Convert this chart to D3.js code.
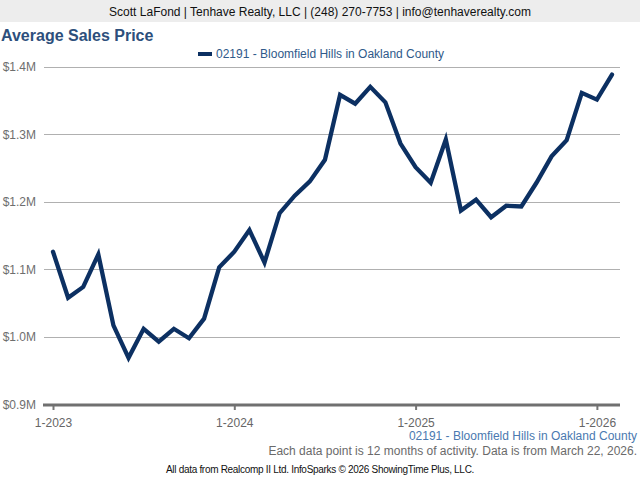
<!DOCTYPE html>
<html><head><meta charset="utf-8">
<script src="https://cdn.jsdelivr.net/npm/d3@7"></script>
<style>
html,body{margin:0;padding:0;background:#fff;}
svg{display:block;font-family:"Liberation Sans",Arial,sans-serif;}
</style></head>
<body><svg id="c" width="640" height="480"></svg>
<script>
const headerText = "Scott LaFond | Tenhave Realty, LLC | (248) 270-7753 | info@tenhaverealty.com";
const chartTitle = "Average Sales Price";
const seriesName = "02191 - Bloomfield Hills in Oakland County";
const startYear = 2023;
const months = d3.range(38); // Jan 2023 .. Feb 2026
const values = [1126000,1058000,1074000,1122000,1017000,969000,1012000,993000,1012000,998000,
  1027000,1103000,1126000,1158000,1110000,1183000,1209000,1230000,1262000,1358000,
  1345000,1370000,1347000,1286000,1251000,1228000,1292000,1187000,1203000,1177000,
  1194000,1193000,1228000,1267000,1291000,1361000,1351000,1388000];
const yTicks = [900000,1000000,1100000,1200000,1300000,1400000];
const xTicks = [0,12,24,36];
const footNote = "Each data point is 12 months of activity. Data is from March 22, 2026.";
const credit = "All data from Realcomp II Ltd. InfoSparks \u00a9 2026 ShowingTime Plus, LLC.";

const svg = d3.select("#c");
// header
svg.append("rect").attr("x",0).attr("y",0).attr("width",640).attr("height",22).attr("fill","#ededed");
svg.append("text").attr("x",320).attr("y",15.5).attr("text-anchor","middle")
  .attr("font-size",12).attr("fill","#111").text(headerText);
svg.append("text").attr("x",1).attr("y",41).attr("font-size",16).attr("font-weight","bold")
  .attr("fill","#2d4f7c").text(chartTitle);
// legend
svg.append("rect").attr("x",198).attr("y",52).attr("width",14).attr("height",4).attr("fill","#0c3062");
svg.append("text").attr("x",216).attr("y",58).attr("font-size",12).attr("fill","#2f5a8a").text(seriesName);

const x = d3.scaleLinear().domain([0,37]).range([53,612]);
const y = d3.scaleLinear().domain([900000,1400000]).range([404.5,66.5]);

// grid
svg.append("g").selectAll("line").data(yTicks.slice(1)).join("line")
  .attr("x1",44).attr("x2",620).attr("y1",d=>Math.round(y(d))+0.5).attr("y2",d=>Math.round(y(d))+0.5)
  .attr("stroke","#b0b0b0").attr("stroke-width",1);
// y labels
svg.append("g").selectAll("text").data(yTicks).join("text")
  .attr("x",36).attr("y",d=>y(d)+4.5).attr("text-anchor","end").attr("font-size",12).attr("fill","#6e6e6e")
  .text(d=>"$"+(d/1e6).toFixed(1)+"M");

// x axis
const xAxis = d3.axisBottom(x).tickValues(xTicks).tickSize(5).tickPadding(8)
  .tickFormat(d=>"1-"+(startYear+d/12));
const gx = svg.append("g").attr("transform","translate(0,405)").call(xAxis);
gx.select(".domain").remove();
gx.selectAll(".tick line").attr("stroke","#777").attr("stroke-width",2);
gx.selectAll(".tick text").attr("font-size",12).attr("fill","#666").attr("font-family","Liberation Sans, Arial, sans-serif");
svg.append("line").attr("x1",43).attr("x2",620).attr("y1",405).attr("y2",405)
  .attr("stroke","#707070").attr("stroke-width",3);

// line
const line = d3.line().x((d,i)=>x(months[i])).y(d=>y(d));
svg.append("path").datum(values).attr("d",line).attr("fill","none")
  .attr("stroke","#0c3062").attr("stroke-width",4.3).attr("stroke-linejoin","miter").attr("stroke-linecap","round");

// footer
svg.append("text").attr("x",637).attr("y",440).attr("text-anchor","end").attr("font-size",12)
  .attr("fill","#4a79b0").text(seriesName);
svg.append("text").attr("x",637).attr("y",455).attr("text-anchor","end").attr("font-size",12)
  .attr("fill","#6a6a6a").text(footNote);
svg.append("text").attr("x",320).attr("y",473).attr("text-anchor","middle").attr("font-size",10)
  .attr("fill","#111").attr("letter-spacing","-0.3").text(credit);
</script></body></html>
